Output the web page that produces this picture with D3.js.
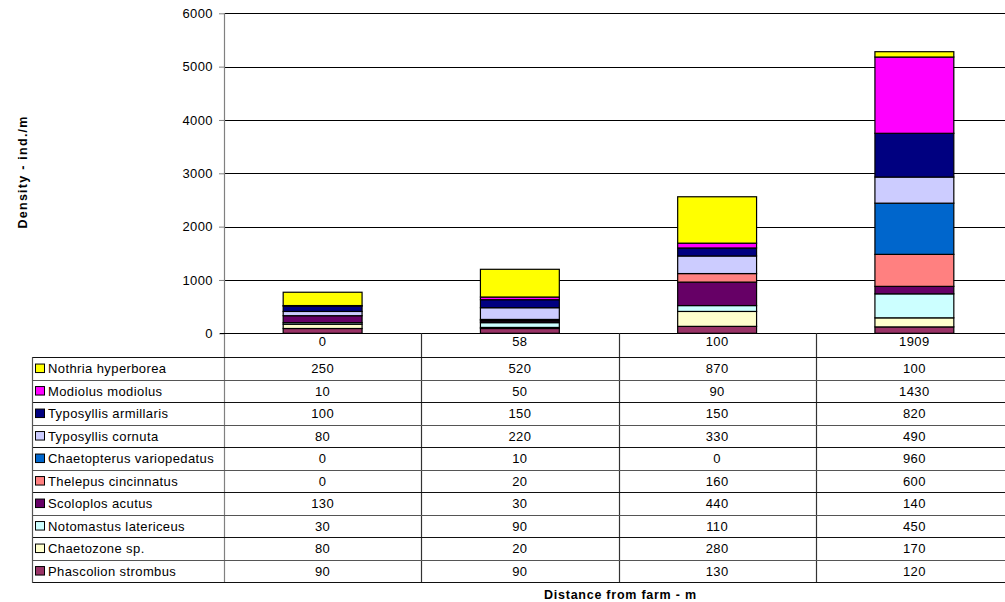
<!DOCTYPE html>
<html>
<head>
<meta charset="utf-8">
<script src="https://cdn.jsdelivr.net/npm/d3@7"></script>
<style>
  body { margin: 0; background: #fff; }
  svg { font-family: "Liberation Sans", Arial, sans-serif; display: block; }
  .lbl { font-size: 13px; letter-spacing: 0.4px; }
</style>
</head>
<body>
<svg id="chart" width="1005" height="602"></svg>
<script>
// distances (x categories)
const distances = ['0', '58', '100', '1909'];

// species, bottom of stack first
const species = [
  'Phascolion strombus', 'Chaetozone sp.', 'Notomastus latericeus', 'Scoloplos acutus',
  'Thelepus cincinnatus', 'Chaetopterus variopedatus', 'Typosyllis cornuta',
  'Typosyllis armillaris', 'Modiolus modiolus', 'Nothria hyperborea'
];

const phascolion = [90, 90, 130, 120];
const chaetozone = [80, 20, 280, 170];
const notomastus = [30, 90, 110, 450];
const scoloplos = [130, 30, 440, 140];
const thelepus = [0, 20, 160, 600];
const chaetopterus = [0, 10, 0, 960];
const cornuta = [80, 220, 330, 490];
const armillaris = [100, 150, 150, 820];
const modiolus = [10, 50, 90, 1430];
const nothria = [250, 520, 870, 100];

const colors = ['#993366', '#FFFFCC', '#CCFFFF', '#660066', '#FF8080',
                '#0066CC', '#CCCCFF', '#000080', '#FF00FF', '#FFFF00'];

const yTicks = [0, 1000, 2000, 3000, 4000, 5000, 6000];

const seriesValues = [phascolion, chaetozone, notomastus, scoloplos, thelepus,
  chaetopterus, cornuta, armillaris, modiolus, nothria];

const rows = distances.map((d, i) => {
  const r = { dist: d };
  species.forEach((s, j) => { r[s] = seriesValues[j][i]; });
  return r;
});

const svg = d3.select('#chart');

const plotLeft = 224, plotRight = 1013;
const x = d3.scaleBand().domain(distances).range([plotLeft, plotRight]).padding(0);
const y = d3.scaleLinear().domain([0, 6000]).range([333.3, 13.3]);

// gridlines
svg.append('g').selectAll('line')
  .data(yTicks.slice(1))
  .enter().append('line')
  .attr('x1', plotLeft).attr('x2', plotRight)
  .attr('y1', d => Math.round(y(d)) + 0.5).attr('y2', d => Math.round(y(d)) + 0.5)
  .attr('stroke', '#000').attr('stroke-width', 1);

// stacked bars
const stack = d3.stack().keys(species)(rows);
const barW = x.bandwidth() * 0.4;
svg.append('g').selectAll('g')
  .data(stack)
  .enter().append('g')
  .attr('fill', (d, i) => colors[i])
  .selectAll('rect')
  .data(d => d)
  .enter().append('rect')
  .attr('x', d => x(d.data.dist) + (x.bandwidth() - barW) / 2)
  .attr('y', d => y(d[1]))
  .attr('width', barW)
  .attr('height', d => y(d[0]) - y(d[1]))
  .attr('stroke', '#000')
  .attr('stroke-width', 1.2);

// y axis
const yAxis = d3.axisLeft(y).tickValues(yTicks).tickSize(5).tickSizeOuter(0).tickFormat(d3.format('d'));
const ya = svg.append('g')
  .attr('transform', `translate(${plotLeft},0)`)
  .call(yAxis);
ya.select('.domain').remove();
ya.selectAll('.tick line').attr('stroke', '#808080');
ya.selectAll('.tick text')
  .attr('class', 'lbl')
  .attr('fill', '#000').attr('x', -11)
  .attr('font-family', '"Liberation Sans", Arial, sans-serif');

// axis line (continues down as table column divider)
const tableTop = 357.3, tableBottom = 582.3;
svg.append('line')
  .attr('x1', plotLeft + 0.5).attr('x2', plotLeft + 0.5)
  .attr('y1', 13).attr('y2', tableBottom + 0.5)
  .attr('stroke', '#808080').attr('stroke-width', 1.2);

// x axis baseline
svg.append('line')
  .attr('x1', plotLeft - 4).attr('x2', plotRight)
  .attr('y1', Math.round(y(0)) + 0.5).attr('y2', Math.round(y(0)) + 0.5)
  .attr('stroke', '#000').attr('stroke-width', 1.2);

// y axis title
svg.append('text')
  .attr('transform', 'translate(26.5,172.5) rotate(-90)')
  .attr('text-anchor', 'middle')
  .attr('font-size', 12.5).attr('font-weight', 'bold')
  .attr('textLength', 112).attr('lengthAdjust', 'spacing')
  .text('Density - ind./m');

// data table
const rowScale = d3.scaleBand().domain(species.slice().reverse()).range([tableTop, tableBottom]);
const tableLeft = 32;

// column dividers
svg.append('g').selectAll('line')
  .data(distances.slice(1))
  .enter().append('line')
  .attr('x1', d => Math.round(x(d)) + 0.5).attr('x2', d => Math.round(x(d)) + 0.5)
  .attr('y1', y(0)).attr('y2', tableBottom)
  .attr('stroke', '#333').attr('stroke-width', 1.2);

// category header labels
svg.append('g').selectAll('text')
  .data(distances)
  .enter().append('text')
  .attr('class', 'lbl')
  .attr('x', d => x(d) + x.bandwidth() / 2)
  .attr('y', 346)
  .attr('text-anchor', 'middle')
  .text(d => d);

// horizontal row lines
const hLines = species.slice().reverse().map(s => rowScale(s)).concat([tableBottom]);
svg.append('g').selectAll('line')
  .data(hLines)
  .enter().append('line')
  .attr('x1', tableLeft).attr('x2', plotRight)
  .attr('y1', d => Math.round(d) + 0.5).attr('y2', d => Math.round(d) + 0.5)
  .attr('stroke', (d, i) => i % 2 ? '#555' : '#111').attr('stroke-width', 1.2);

// left border
svg.append('line')
  .attr('x1', tableLeft + 0.5).attr('x2', tableLeft + 0.5)
  .attr('y1', tableTop).attr('y2', tableBottom + 0.5)
  .attr('stroke', '#555').attr('stroke-width', 1.2);

// row labels with keys
const rowG = svg.append('g').selectAll('g')
  .data(species)
  .enter().append('g')
  .attr('transform', s => `translate(0,${rowScale(s)})`);

rowG.append('rect')
  .attr('x', 35.5).attr('y', rowScale.bandwidth() / 2 - 4.5)
  .attr('width', 9).attr('height', 8.5)
  .attr('fill', (s, i) => colors[i])
  .attr('stroke', '#000').attr('stroke-width', 1);

rowG.append('text')
  .attr('class', 'lbl')
  .attr('x', 48).attr('y', rowScale.bandwidth() / 2 + 4.6)
  .text(s => s);

rowG.selectAll('text.val')
  .data((s, i) => distances.map((d, k) => ({ d, v: seriesValues[i][k] })))
  .enter().append('text')
  .attr('class', 'val lbl')
  .attr('x', v => x(v.d) + x.bandwidth() / 2)
  .attr('y', rowScale.bandwidth() / 2 + 4.6)
  .attr('text-anchor', 'middle')
  .text(v => v.v);

// x axis title
svg.append('text')
  .attr('x', 620).attr('y', 599)
  .attr('text-anchor', 'middle')
  .attr('font-size', 12.5).attr('font-weight', 'bold')
  .attr('textLength', 152).attr('lengthAdjust', 'spacing')
  .text('Distance from farm - m');
</script>
</body>
</html>
